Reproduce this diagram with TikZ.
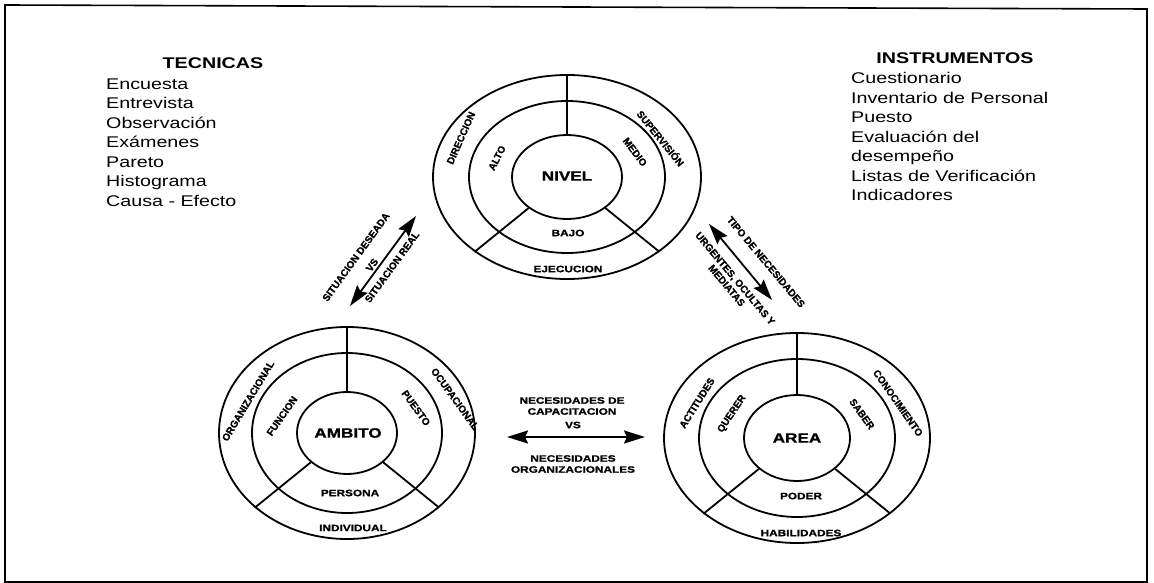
\documentclass[tikz,border=0pt]{standalone}
\usepackage{fontspec}
\setmainfont{Liberation Sans}
% the artwork is a horizontally widened scan: level text is set wide,
% steep text only slightly; the ring captions are heavy
\newfontfamily\widefont[FakeStretch=1.27]{Liberation Sans}
\newfontfamily\heavyfont[FakeStretch=1.27,BoldFeatures={FakeBold=1.2}]{Liberation Sans}
\newfontfamily\tiltfont[BoldFeatures={FakeBold=1.2}]{Liberation Sans}
\usetikzlibrary{arrows.meta,shapes.geometric}
\begin{document}
\begin{tikzpicture}[x=1pt,y=-1pt,
  ring/.style 2 args={ellipse,draw,line width=1.8pt,inner sep=0pt,
    minimum width={2*#1},minimum height={2*#2}},
  divider/.style={line width=1.8pt},
  twoway/.style={line width=1.8pt,
    {Stealth[length=21pt,width=13pt,inset=3pt]}-{Stealth[length=21pt,width=13pt,inset=3pt]}},
  lbl/.style={font=\heavyfont\bfseries\fontsize{9.3}{11}\selectfont,inner sep=0pt,align=center},
  rlbl/.style={font=\tiltfont\bfseries\fontsize{10}{11}\selectfont,inner sep=0pt,align=center,rotate=#1},
  ctr/.style={font=\heavyfont\bfseries\fontsize{13.5}{15}\selectfont,inner sep=0pt},
  hdr/.style={font=\widefont\bfseries\fontsize{15.5}{19.5}\selectfont,inner sep=0pt},
  txt/.style={font=\widefont\fontsize{15.5}{19.5}\selectfont,inner sep=0pt,align=left}]
\useasboundingbox (0,0) rectangle (1154,583);
% outer frame (slightly skewed along the top)
\coordinate (fTL) at (5,5);
\coordinate (fTR) at (1147,9);
\coordinate (fBR) at (1147,582);
\coordinate (fBL) at (5,582);
\draw[line width=1.6pt] (fTL) -- (fTR) -- (fBR) -- (fBL) -- cycle;

% text columns
\node[hdr] (tecH) at (213,63) {TECNICAS};
\node[txt,anchor=north west] (tecL) at (106,78.5)
  {Encuesta\\Entrevista\\Observación\\Exámenes\\Pareto\\Histograma\\Causa - Efecto};
\node[hdr] (insH) at (955,58) {INSTRUMENTOS};
\node[txt,anchor=north west] (insL) at (851,72.5)
  {Cuestionario\\Inventario de Personal\\Puesto\\Evaluación del\\desempeño\\Listas de Verificación\\Indicadores};

% NIVEL
\coordinate (nivC) at (567,177);
\node[ring={134}{102}] (nivOut) at (nivC) {};
\node[ring={98}{76}] (nivMid) at (nivC) {};
\node[ring={55}{42}] (nivIn) at (nivC) {};
\draw[divider] (nivIn.90) -- (nivOut.90);
\draw[divider] (nivIn.219) -- (nivOut.219);
\draw[divider] (nivIn.321) -- (nivOut.321);
\node[ctr] (nivel) at (567,176) {NIVEL};
\node[rlbl=66] (direccion) at (461,138) {DIRECCION};
\node[rlbl=63] (alto) at (497,158) {ALTO};
\node[rlbl=-53] (medio) at (635,152) {MEDIO};
\node[rlbl=-51] (superv) at (661,138) {SUPERVISIÓN};
\node[lbl] (bajo) at (568,233) {BAJO};
\node[lbl] (ejecucion) at (568,269) {EJECUCION};

% AMBITO
\coordinate (ambC) at (347,433);
\node[ring={128}{106}] (ambOut) at (ambC) {};
\node[ring={95}{80}] (ambMid) at (ambC) {};
\node[ring={50}{41}] (ambIn) at (ambC) {};
\draw[divider] (ambIn.90) -- (ambOut.90);
\draw[divider] (ambIn.219) -- (ambOut.219);
\draw[divider] (ambIn.321) -- (ambOut.321);
\node[ctr] (ambito) at (348,433) {AMBITO};
\node[rlbl=59] (organiz) at (248,401) {ORGANIZACIONAL};
\node[rlbl=55] (funcion) at (282,416) {FUNCION};
\node[rlbl=-54] (puesto) at (416,408) {PUESTO};
\node[rlbl=-54] (ocupac) at (455,399) {OCUPACIONAL};
\node[lbl] (persona) at (350,493) {PERSONA};
\node[lbl] (individual) at (353,528) {INDIVIDUAL};

% AREA
\coordinate (areC) at (797,438);
\node[ring={133}{105}] (areOut) at (areC) {};
\node[ring={98}{79}] (areMid) at (areC) {};
\node[ring={53}{43}] (areIn) at (areC) {};
\draw[divider] (areIn.90) -- (areOut.90);
\draw[divider] (areIn.219) -- (areOut.219);
\draw[divider] (areIn.321) -- (areOut.321);
\node[ctr] (area) at (797,438) {AREA};
\node[rlbl=58] (actitudes) at (697,403) {ACTITUDES};
\node[rlbl=56] (querer) at (732,414) {QUERER};
\node[rlbl=-54] (saber) at (862,414) {SABER};
\node[rlbl=-55] (conoc) at (898,403) {CONOCIMIENTO};
\node[lbl] (poder) at (801,496) {PODER};
\node[lbl] (habil) at (801,533) {HABILIDADES};

% AMBITO -- NIVEL
\coordinate (sitA) at (350,306);
\coordinate (sitB) at (416,216);
\draw[twoway] (sitA) -- (sitB);
\node[rlbl=54] (sitDes) at (356,257) {SITUACION DESEADA};
\node[rlbl=54] (sitVs) at (372,265) {VS};
\node[rlbl=54] (sitReal) at (392,267) {SITUACION REAL};

% NIVEL -- AREA
\coordinate (tipA) at (709,224);
\coordinate (tipB) at (772,300);
\draw[twoway] (tipA) -- (tipB);
\node[rlbl=-50] (tipo) at (766,262) {TIPO DE NECESIDADES};
\node[rlbl=-50] (urgentes) at (731,282) {URGENTES, OCULTAS Y\\MEDIATAS};

% AMBITO -- AREA
\coordinate (necA) at (507,437);
\coordinate (necB) at (645,437);
\draw[twoway] (necA) -- (necB);
\node[lbl] (necCap) at (572,406) {NECESIDADES DE\\CAPACITACION};
\node[lbl] (necVs) at (573,425) {VS};
\node[lbl] (necOrg) at (573,464) {NECESIDADES\\ORGANIZACIONALES};
\end{tikzpicture}
\end{document}
